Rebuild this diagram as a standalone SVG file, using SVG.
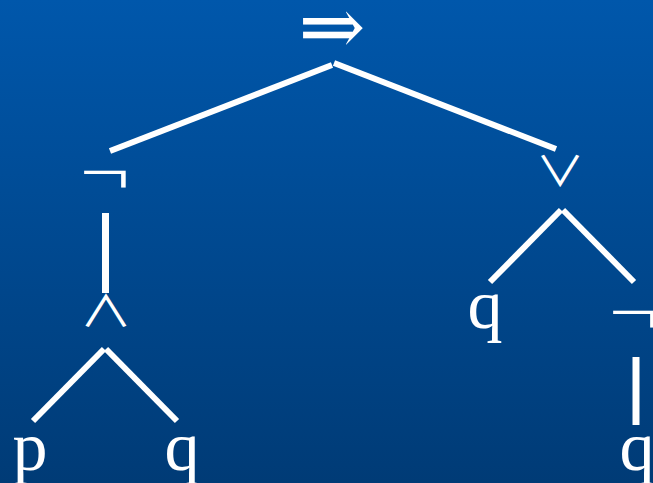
<svg xmlns="http://www.w3.org/2000/svg" width="653" height="483" viewBox="0 0 653 483">
<defs>
<linearGradient id="bg" x1="0" y1="0" x2="0" y2="1">
<stop offset="0" stop-color="#0057AB"/>
<stop offset="1" stop-color="#003B76"/>
</linearGradient>
<style>
.t{font-family:"Liberation Serif","DejaVu Serif",serif;font-size:70px;fill:#fff;text-anchor:middle}
.n{font-family:"Liberation Serif","DejaVu Serif",serif;font-size:66px;fill:#fff;text-anchor:middle}
.s{font-family:"DejaVu Serif","Liberation Serif",serif;fill:#fff;text-anchor:middle}
.w{font-family:"Noto Sans CJK JP","DejaVu Sans",sans-serif;font-weight:400;font-size:60px;fill:#fff;text-anchor:middle}
.e{stroke:#fff;stroke-width:6;fill:none}
</style>
</defs>
<rect width="653" height="483" fill="url(#bg)"/>
<g id="connectors">
<line class="e" x1="332" y1="65" x2="110" y2="151"/>
<line class="e" x1="334" y1="63" x2="556" y2="149"/>
<line class="e" x1="105.5" y1="213" x2="105.5" y2="293" style="stroke-width:7"/>
<line class="e" x1="104" y1="349" x2="33" y2="421"/>
<line class="e" x1="106" y1="349" x2="177" y2="421"/>
<line class="e" x1="561" y1="210" x2="490" y2="282"/>
<line class="e" x1="563" y1="210" x2="634" y2="282"/>
<line class="e" x1="636" y1="357" x2="636" y2="425" style="stroke-width:7"/>
</g>
<g id="n-implies"><text class="s" x="332" y="54" font-size="80">⇒</text></g>
<g id="n-not1"><text class="n" transform="translate(105,194) scale(1.35,1)">¬</text></g>
<g id="n-and"><text class="w" transform="translate(106,327) scale(0.88,0.72)">∧</text></g>
<g id="n-p"><text class="t" x="30" y="470">p</text></g>
<g id="n-q1"><text class="t" x="182" y="470">q</text></g>
<g id="n-or"><text class="w" transform="translate(560,186) scale(0.82,0.69)">∨</text></g>
<g id="n-q2"><text class="t" x="485" y="328">q</text></g>
<g id="n-not2"><text class="n" transform="translate(634,334) scale(1.35,1)">¬</text></g>
<g id="n-q3"><text class="t" x="637" y="470">q</text></g>
</svg>
